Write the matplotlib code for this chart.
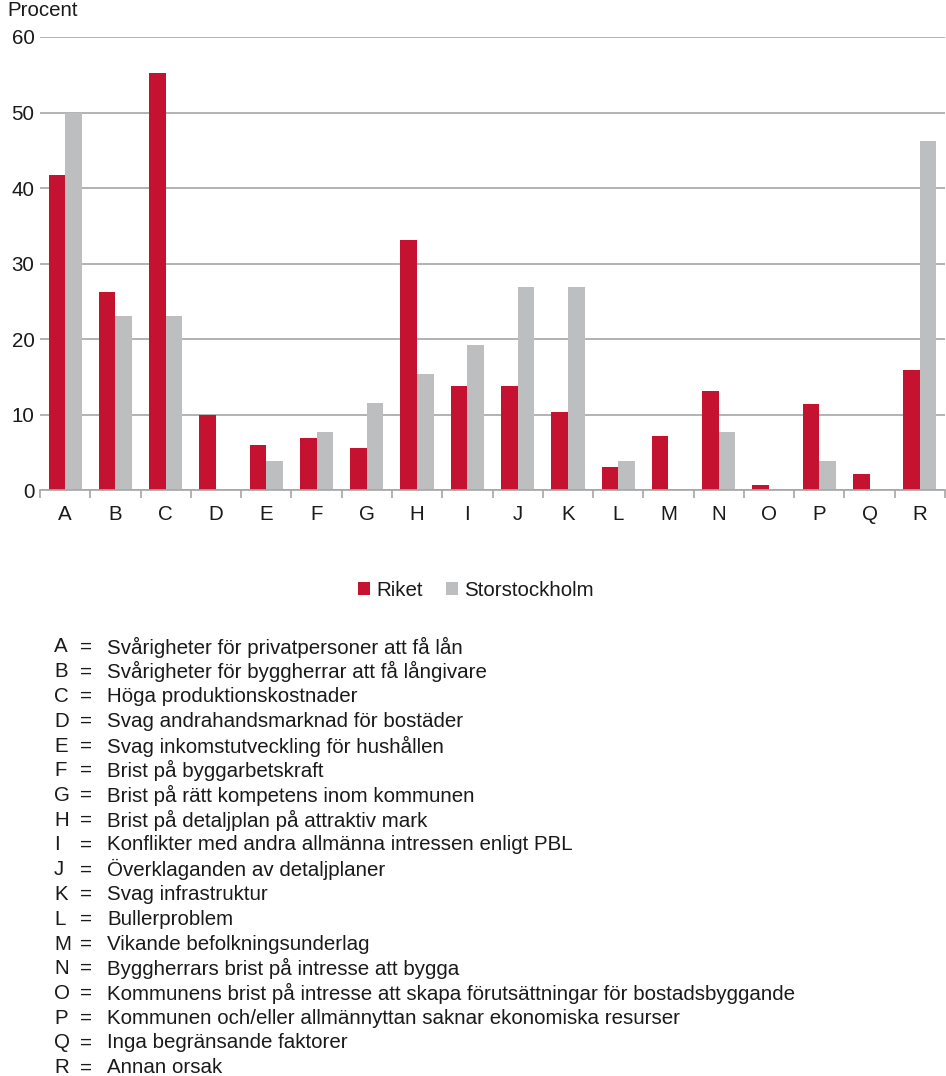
import numpy as np
import matplotlib
matplotlib.use("Agg")
import matplotlib.pyplot as plt

plt.rcParams['font.family'] = ['Liberation Sans', 'DejaVu Sans']

categories = list("ABCDEFGHIJKLMNOPQR")
riket = [41.7, 26.2, 55.2, 10.0, 5.9, 6.9, 5.5, 33.1, 13.8, 13.8, 10.3, 3.1, 7.2, 13.1, 0.7, 11.4, 2.1, 15.9]
storsthlm = [50.0, 23.1, 23.1, 0.0, 3.8, 7.7, 11.5, 15.4, 19.2, 26.9, 26.9, 3.8, 0.0, 7.7, 0.0, 3.8, 0.0, 46.2]
descriptions = [
    "Svårigheter för privatpersoner att få lån",
    "Svårigheter för byggherrar att få långivare",
    "Höga produktionskostnader",
    "Svag andrahandsmarknad för bostäder",
    "Svag inkomstutveckling för hushållen",
    "Brist på byggarbetskraft",
    "Brist på rätt kompetens inom kommunen",
    "Brist på detaljplan på attraktiv mark",
    "Konflikter med andra allmänna intressen enligt PBL",
    "Överklaganden av detaljplaner",
    "Svag infrastruktur",
    "Bullerproblem",
    "Vikande befolkningsunderlag",
    "Byggherrars brist på intresse att bygga",
    "Kommunens brist på intresse att skapa förutsättningar för bostadsbyggande",
    "Kommunen och/eller allmännyttan saknar ekonomiska resurser",
    "Inga begränsande faktorer",
    "Annan orsak",
]

RED = "#C41230"
GREY = "#BDBEC0"
TXT = "#1A1A1A"
FS = 14.8
W, H = 946, 1076

fig = plt.figure(figsize=(W / 100, H / 100), dpi=100)
ax = fig.add_axes([40 / W, 1 - 490 / H, 905 / W, 453 / H])

x = np.arange(len(categories))
bw = 0.33
ax.bar(x - bw / 2, riket, bw, color=RED, label="Riket")
ax.bar(x + bw / 2, storsthlm, bw, color=GREY, label="Storstockholm")

ax.set_xlim(-0.5, len(categories) - 0.5)
ax.set_ylim(0, 60)
ax.set_yticks(range(0, 61, 10))
ax.yaxis.grid(True, color="#A6A6A6", linewidth=1.2)
ax.set_axisbelow(True)
for s in ["left", "right", "top"]:
    ax.spines[s].set_visible(False)
ax.spines["bottom"].set_color("#A6A6A6")
ax.spines["bottom"].set_linewidth(1.2)
ax.tick_params(axis="y", length=0, labelsize=FS, pad=4, labelcolor=TXT)

# category labels centred, tick marks on boundaries
ax.set_xticks(x)
ax.set_xticklabels(categories, fontsize=FS, color=TXT)
ax.tick_params(axis="x", which="major", length=0, pad=11)
ax.set_xticks(np.arange(-0.5, len(categories), 1), minor=True)
ax.tick_params(axis="x", which="minor", length=6, color="#A6A6A6", width=1.2)

fig.text(7 / W, 1 - 10 / H, "Procent", fontsize=FS, va="center", ha="left", color=TXT)

fig.legend(loc="center", bbox_to_anchor=(476 / W, 1 - 590 / H), ncol=2, frameon=False,
           fontsize=FS, handlelength=0.6, handleheight=0.6, handletextpad=0.3,
           columnspacing=1.1, labelcolor=TXT)

y0, dy = 647, 24.75
for i, (c, d) in enumerate(zip(categories, descriptions)):
    yy = 1 - (y0 + i * dy) / H
    fig.text(54 / W, yy, c, fontsize=FS, va="center", ha="left", color=TXT)
    fig.text(80 / W, yy, "=", fontsize=FS, va="center", ha="left", color=TXT)
    fig.text(107 / W, yy, d, fontsize=FS, va="center", ha="left", color=TXT)

fig.savefig("out.png", dpi=100)
